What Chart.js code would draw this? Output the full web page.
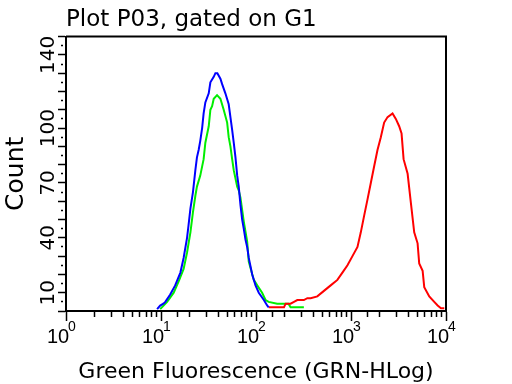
<!DOCTYPE html>
<html>
<head>
<meta charset="utf-8">
<script src="https://cdn.jsdelivr.net/npm/chart.js@4.4.0/dist/chart.umd.min.js"></script>
<style>
html,body{margin:0;padding:0;background:#ffffff;}
#wrap{width:512px;height:384px;}
</style>
</head>
<body>
<div id="wrap"><canvas id="c" width="512" height="384"></canvas></div>
<script>
// ---- text ----
const titleText = 'Plot P03, gated on G1';
const xAxisLabel = 'Green Fluorescence (GRN-HLog)';
const yAxisLabel = 'Count';
const yTickLabels = [10, 40, 70, 100, 140];
const xTickBase = '10';
const xTickExponents = ['0', '1', '2', '3', '4'];

// ---- series (fluorescence value, count) ----
const blueX = [9.1, 9.8, 10.6, 11.1, 12.5, 14.1, 16.0, 17.3, 18.8, 19.5, 20.4, 21.7, 23.0, 23.9, 24.9, 25.9, 27.1, 28.1, 29.3, 31.8, 33.1, 35.9, 37.4, 39.2, 42.2, 44.0, 47.6, 51.6, 53.8, 56.1, 58.3, 60.8, 63.4, 65.8, 68.6, 71.5, 74.3, 77.5, 80.7, 83.9, 91.2, 98.8, 107, 121, 131, 136];
const blueY = [1, 3, 4, 5, 9, 14, 21, 29, 40, 47, 56, 65, 77, 84, 88, 93, 100, 108, 114, 119, 125, 128, 130, 130, 127, 124, 119, 113, 106, 99, 92, 84, 74, 68, 58, 50, 45, 39, 35, 29, 20, 14, 10, 6, 3, 2];

const greenX = [9.8, 11.6, 13.6, 15.3, 17.3, 18.8, 20.4, 21.7, 23.0, 23.9, 25.9, 28.1, 29.3, 31.8, 33.1, 34.5, 35.9, 38.9, 42.2, 45.7, 49.7, 51.6, 53.8, 56.1, 58.3, 63.4, 65.8, 68.6, 74.3, 80.7, 83.9, 94.8, 103, 116, 126, 136, 167, 220, 231, 319];
const greenY = [1, 5, 10, 16, 23, 32, 43, 54, 63, 68, 74, 83, 92, 101, 110, 112, 116, 118, 116, 110, 103, 95, 90, 83, 77, 68, 66, 62, 49, 38, 27, 17, 14, 10, 6, 5, 4, 4, 2, 2];

const redX = [136, 197, 205, 231, 251, 272, 319, 347, 376, 442, 519, 611, 719, 812, 918, 1036, 1170, 1268, 1374, 1492, 1616, 1751, 1900, 2060, 2233, 2425, 2737, 2965, 3214, 3406, 3577, 3945, 4272, 4628, 5023, 5223, 5674, 5902, 6665, 7522, 8168, 8851, 9594];
const redY = [2, 2, 4, 4, 5, 6, 6, 7, 7, 8, 11, 14, 17, 21, 25, 30, 35, 43, 52, 61, 70, 79, 88, 95, 103, 106, 108, 105, 101, 97, 83, 75, 59, 43, 37, 26, 22, 13, 8, 5, 3, 1.5, 1.5];

function pts(xs, ys) { return xs.map((x, i) => ({x: x, y: ys[i]})); }
function isDecade(v) { const l = Math.log10(v); return Math.abs(l - Math.round(l)) < 1e-9; }

const framePlugin = {
  id: 'frame',
  afterDraw(chart) {
    const a = chart.chartArea, ctx = chart.ctx;
    ctx.save();
    ctx.strokeStyle = '#000';
    ctx.lineWidth = 2;
    ctx.beginPath();
    ctx.moveTo(a.left, a.top);
    ctx.lineTo(a.right, a.top);
    ctx.lineTo(a.right, a.bottom);
    ctx.stroke();
    ctx.restore();
  }
};

new Chart(document.getElementById('c'), {
  type: 'line',
  data: {
    datasets: [
      {label: 'blue', data: pts(blueX, blueY), borderColor: '#0000ff', borderWidth: 2},
      {label: 'red', data: pts(redX, redY), borderColor: '#ff0000', borderWidth: 2},
      {label: 'green', data: pts(greenX, greenY), borderColor: '#00ee00', borderWidth: 2}
    ]
  },
  options: {
    responsive: false,
    animation: false,
    elements: {point: {radius: 0}, line: {tension: 0, fill: false}},
    layout: {padding: {left: 0, right: 66, top: 0, bottom: 0}},
    plugins: {
      legend: {display: false},
      tooltip: {enabled: false},
      title: {
        display: true, text: titleText, align: 'start', fullSize: false, color: '#000',
        font: {family: 'DejaVu Sans', size: 23, weight: 'normal', lineHeight: 1.2},
        padding: {top: 6, bottom: 3}
      }
    },
    scales: {
      xExp: {
        type: 'logarithmic', min: 1, max: 10000, position: 'bottom', weight: 0,
        grid: {display: false, drawTicks: false, drawOnChartArea: false},
        border: {display: false},
        ticks: {
          autoSkip: false, maxRotation: 0, minRotation: 0, mirror: true, padding: -25, labelOffset: 6, color: '#000',
          font: {family: 'Liberation Sans', size: 14},
          callback: (v) => isDecade(v) ? xTickExponents[Math.round(Math.log10(v))] : ''
        },
        afterFit: (s) => { s.height = 0; }
      },
      x: {
        type: 'logarithmic', min: 1, max: 10000, position: 'bottom', weight: 1,
        grid: {
          drawOnChartArea: false, drawTicks: true, tickLength: 10, tickColor: '#000', tickWidth: 1.5,
          tickBorderDash: (ctx) => (ctx.tick && isDecade(ctx.tick.value)) ? [] : [5, 20]
        },
        border: {display: true, color: '#000', width: 2},
        ticks: {
          autoSkip: false, maxRotation: 0, minRotation: 0, padding: 4, labelOffset: -8, color: '#000',
          font: {family: 'Liberation Sans', size: 20},
          callback: (v) => isDecade(v) ? xTickBase : ''
        },
        title: {
          display: true, text: xAxisLabel, color: '#000',
          font: {family: 'DejaVu Sans', size: 22, lineHeight: 1.1}, padding: 0
        },
        afterFit: (s) => { s.height = 73; }
      },
      y: {
        type: 'linear', min: 0, max: 150,
        grid: {
          drawOnChartArea: false, drawTicks: true, tickLength: 8, tickColor: '#000', tickWidth: 1.5,
          tickBorderDash: (ctx) => (ctx.tick && ctx.tick.value % 10 === 0) ? [] : [0, 3, 2, 10]
        },
        border: {display: true, color: '#000', width: 2},
        ticks: {
          stepSize: 5, autoSkip: false, minRotation: 90, maxRotation: 90, crossAlign: 'center',
          padding: -10, color: '#000', font: {family: 'DejaVu Sans', size: 20},
          callback: (v) => yTickLabels.includes(v) ? String(v) : ''
        },
        title: {
          display: true, text: yAxisLabel, color: '#000',
          font: {family: 'DejaVu Sans', size: 25, lineHeight: 1.2}, padding: {top: 1, bottom: 0}
        },
        afterFit: (s) => { s.width = 66; }
      }
    }
  },
  plugins: [framePlugin]
});
</script>
</body>
</html>
